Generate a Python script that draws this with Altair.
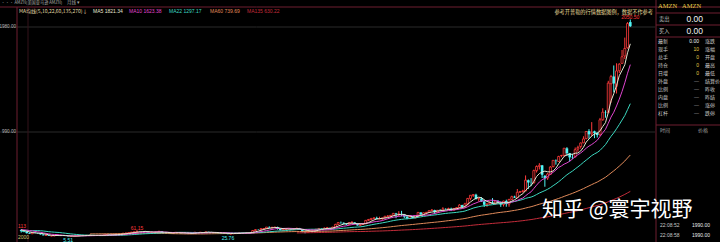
import altair as alt
import pandas as pd

# ---------------- data ----------------
# month-end closes before the visible range (Jun 1997 .. Dec 1999), used only for the moving averages
pre_closes = [1.84, 2.60, 2.50, 4.41, 4.29, 4.70, 5.01,
              4.91, 5.58, 6.90, 7.73, 6.60, 8.33, 9.80, 7.95, 13.10, 12.00, 17.94, 26.75,
              58.47, 64.06, 85.81, 87.00, 60.69, 62.56, 57.22, 54.09, 81.38, 70.62, 85.06, 76.13]

# monthly (open, high, low, close)
ohlc_2000 = [(81.5, 91.5, 58.5, 64.56), (63.0, 85.0, 61.5, 68.88), (69.0, 75.3, 60.5, 67.00), (66.0, 74.5, 41.3, 55.19),
             (55.0, 62.8, 44.5, 48.31), (48.5, 56.8, 32.6, 36.31), (36.5, 42.9, 29.5, 30.13), (30.5, 43.9, 29.5, 41.50),
             (41.3, 44.5, 35.5, 38.44), (38.5, 40.2, 29.5, 36.63), (36.5, 39.6, 22.8, 24.69), (24.0, 26.6, 14.9, 15.56)]
ohlc_2001 = [(15.5, 22.9, 13.9, 17.31), (17.0, 18.1, 9.9, 10.19), (10.0, 12.4, 8.1, 10.23), (10.1, 17.9, 8.4, 15.78),
             (15.8, 18.0, 13.2, 16.69), (16.7, 17.3, 11.5, 14.15), (14.1, 15.9, 10.6, 12.49), (12.5, 12.6, 8.7, 8.94),
             (9.0, 9.4, 5.51, 5.97), (6.0, 7.6, 5.7, 6.98), (7.0, 10.8, 6.8, 8.20), (8.3, 11.1, 8.1, 10.82)]
ohlc_2002 = [(10.9, 14.8, 9.9, 14.19), (14.1, 15.1, 12.5, 14.10), (14.1, 16.8, 13.5, 14.30), (14.3, 16.8, 13.9, 16.69),
             (16.7, 19.9, 16.3, 18.23), (18.2, 19.4, 14.9, 16.25), (16.3, 16.4, 12.3, 14.45), (14.5, 15.8, 13.2, 14.94),
             (14.9, 17.8, 14.3, 15.93), (15.9, 20.0, 15.1, 19.36), (19.4, 25.0, 18.9, 23.35), (23.4, 24.0, 18.5, 18.89)]
ohlc_2003 = [(18.9, 23.4, 18.8, 21.85), (21.9, 23.5, 20.9, 22.01), (22.0, 27.0, 21.5, 26.03), (26.0, 29.8, 25.6, 28.69),
             (28.7, 37.6, 28.5, 35.89), (35.9, 39.3, 35.0, 36.32), (36.3, 42.2, 35.4, 41.64), (41.6, 47.0, 41.2, 46.32),
             (46.3, 50.5, 44.5, 48.43), (48.4, 61.15, 47.9, 54.43), (54.4, 57.2, 51.3, 53.97), (54.0, 55.0, 51.0, 52.62)]
ohlc_2004 = [(52.6, 58.0, 48.6, 50.40), (50.4, 51.9, 41.4, 43.01), (43.0, 45.8, 39.2, 43.28), (43.3, 48.0, 42.0, 43.60),
             (43.6, 50.0, 42.0, 48.50), (48.5, 54.9, 47.3, 54.40), (54.4, 54.5, 37.8, 38.92), (38.9, 39.6, 36.0, 38.14),
             (38.1, 42.0, 37.7, 40.86), (40.9, 42.0, 33.0, 34.13), (34.1, 40.9, 33.7, 39.68), (39.7, 45.0, 39.5, 44.29)]
ohlc_2005 = [(44.3, 45.0, 40.0, 43.22), (43.2, 44.6, 34.6, 35.18), (35.2, 36.8, 33.2, 34.27), (34.3, 35.0, 30.6, 32.36),
             (32.4, 36.9, 31.9, 35.51), (35.5, 37.0, 32.5, 33.09), (33.1, 45.8, 32.9, 44.99), (45.0, 46.6, 41.6, 42.70),
             (42.7, 46.3, 41.2, 45.30), (45.3, 45.5, 38.9, 39.86), (39.9, 49.5, 39.2, 48.46), (48.5, 50.0, 46.1, 47.15)]
ohlc_2006 = [(47.2, 48.6, 43.6, 44.82), (44.8, 46.1, 36.3, 37.44), (37.4, 38.6, 35.0, 36.53), (36.5, 36.9, 33.6, 35.21),
             (35.2, 36.3, 33.0, 34.61), (34.6, 39.2, 33.5, 38.68), (38.7, 38.9, 25.76, 26.89), (26.9, 31.5, 26.0, 30.83),
             (30.8, 33.0, 29.6, 32.12), (32.1, 38.3, 31.1, 38.09), (38.1, 42.0, 37.2, 40.34), (40.3, 41.4, 37.0, 39.46)]
ohlc_2007 = [(39.5, 40.8, 36.3, 37.67), (37.7, 42.0, 37.2, 39.14), (39.1, 40.4, 36.7, 39.79), (39.8, 63.8, 39.6, 61.33),
             (61.3, 74.7, 59.7, 69.14), (69.1, 74.7, 67.4, 68.41), (68.4, 84.5, 67.5, 78.54), (78.5, 80.4, 68.9, 79.91),
             (79.9, 94.5, 78.8, 93.15), (93.2, 101.1, 83.8, 89.15), (89.2, 96.8, 77.0, 90.56), (90.6, 96.3, 86.3, 92.64)]
ohlc_2008 = [(92.6, 97.4, 69.0, 77.70), (77.7, 80.5, 62.0, 64.47), (64.5, 75.3, 61.5, 71.30), (71.3, 83.0, 70.4, 78.63),
             (78.6, 84.9, 71.3, 81.62), (81.6, 83.8, 72.1, 73.33), (73.3, 82.6, 68.1, 76.34), (76.3, 88.8, 75.4, 80.81),
             (80.8, 85.6, 70.6, 72.76), (72.8, 74.0, 43.1, 57.24), (57.2, 61.4, 34.7, 42.70), (42.7, 56.3, 42.2, 51.28)]
ohlc_2009 = [(51.3, 60.0, 47.6, 58.82), (58.8, 66.9, 58.0, 64.79), (64.8, 74.9, 61.0, 73.44), (73.4, 84.0, 72.5, 80.52),
             (80.5, 81.6, 75.0, 77.99), (78.0, 89.7, 77.0, 83.66), (83.7, 95.1, 80.4, 85.76), (85.8, 86.9, 80.3, 81.19),
             (81.2, 96.5, 78.5, 93.36), (93.4, 124.4, 88.4, 118.81), (118.8, 138.2, 115.6, 135.91), (135.9, 145.9, 124.5, 134.52)]
ohlc_2010 = [(134.5, 136.6, 119.4, 125.41), (125.4, 128.0, 111.2, 118.40), (118.4, 136.1, 117.8, 135.77), (135.8, 151.1, 128.5, 137.10),
             (137.1, 139.0, 119.3, 125.46), (125.5, 130.2, 107.3, 109.26), (109.3, 123.0, 105.8, 117.89), (117.9, 128.6, 113.8, 124.83),
             (124.8, 160.4, 123.0, 157.06), (157.1, 170.2, 150.0, 165.23), (165.2, 177.2, 156.0, 175.40), (175.4, 185.0, 170.1, 180.00)]
ohlc_2011 = [(180.0, 191.6, 166.9, 169.64), (169.6, 191.4, 169.5, 173.29), (173.3, 181.6, 160.6, 180.13), (180.1, 197.8, 175.1, 195.81),
             (195.8, 206.4, 190.9, 196.69), (196.7, 206.4, 181.6, 204.49), (204.5, 227.2, 201.0, 222.52), (222.5, 227.5, 177.4, 215.23),
             (215.2, 244.0, 195.1, 216.23), (216.2, 246.7, 195.6, 213.51), (213.5, 217.5, 177.5, 192.29), (192.3, 197.0, 166.9, 173.10)]
ohlc_2012 = [(173.1, 196.0, 172.0, 194.44), (194.4, 195.0, 175.9, 179.69), (179.7, 204.8, 177.7, 202.51), (202.5, 232.4, 185.0, 231.90),
             (231.9, 232.4, 206.8, 212.91), (212.9, 229.5, 208.0, 228.35), (228.4, 233.9, 211.3, 233.30), (233.3, 250.1, 230.5, 248.27),
             (248.3, 264.1, 244.6, 254.32), (254.3, 257.3, 215.5, 232.89), (232.9, 254.7, 226.5, 252.05), (252.1, 262.7, 243.7, 250.87)]
ohlc_2013 = [(250.9, 281.0, 250.0, 265.50), (265.5, 269.9, 256.4, 264.27), (264.3, 276.6, 255.5, 266.49), (266.5, 276.4, 244.6, 253.81),
             (253.8, 272.4, 253.2, 269.20), (269.2, 282.5, 260.4, 277.69), (277.7, 309.4, 277.2, 301.22), (301.2, 304.0, 279.4, 280.98),
             (281.0, 322.4, 280.0, 312.64), (312.6, 368.4, 297.5, 363.57), (363.6, 394.2, 346.5, 393.62), (393.6, 405.6, 378.3, 398.79)]
ohlc_2014 = [(398.8, 408.1, 352.7, 358.69), (358.7, 366.7, 336.6, 362.10), (362.1, 376.6, 331.1, 336.37), (336.4, 348.0, 284.0, 304.13),
             (304.1, 315.2, 284.4, 312.55), (312.6, 336.4, 302.2, 324.78), (324.8, 366.7, 312.5, 312.99), (313.0, 342.4, 304.6, 339.04),
             (339.0, 348.5, 319.8, 322.44), (322.4, 335.0, 284.0, 305.46), (305.5, 341.7, 287.1, 338.64), (338.6, 352.0, 285.3, 310.35)]
ohlc_2015 = [(310.4, 359.5, 285.3, 354.53), (354.5, 389.4, 350.0, 380.16), (380.2, 389.4, 368.3, 372.10), (372.1, 452.7, 367.6, 421.78),
             (421.8, 433.4, 415.3, 429.23), (429.2, 445.2, 419.0, 434.09), (434.1, 580.6, 433.3, 536.15), (536.2, 542.1, 452.4, 512.89),
             (512.9, 555.2, 479.6, 511.89), (511.9, 635.2, 502.8, 625.90), (625.9, 675.0, 608.0, 664.80), (664.8, 696.4, 637.0, 675.89)]
ohlc_2016 = [(675.9, 679.0, 556.0, 587.00), (578.2, 581.8, 474.0, 552.52), (556.3, 603.2, 538.6, 593.64), (590.5, 669.3, 585.3, 659.59),
             (663.9, 724.2, 656.0, 722.79), (720.0, 731.5, 682.1, 715.62), (712.0, 766.0, 708.0, 758.81), (767.0, 774.5, 752.0, 769.16),
             (769.3, 838.5, 757.9, 837.31), (836.0, 847.2, 764.0, 789.82), (790.3, 791.4, 710.1, 750.57), (752.4, 785.0, 735.0, 749.87)]
ohlc_2017 = [(757.9, 843.8, 747.7, 823.48), (829.2, 860.9, 803.0, 845.04), (853.1, 890.4, 833.3, 886.54), (888.0, 949.6, 884.5, 924.99),
             (927.8, 999.8, 920.8, 994.62), (998.6, 1017.0, 927.0, 968.00), (972.8, 1083.3, 951.0, 987.78), (996.1, 1002.6, 931.8, 980.60),
             (984.2, 985.2, 937.9, 961.35), (964.6, 1122.8, 951.5, 1105.28), (1105.4, 1213.4, 1096.1, 1176.75), (1172.1, 1194.8, 1124.7, 1169.47)]
ohlc_2018 = [(1172.0, 1472.6, 1170.5, 1450.89), (1445.0, 1528.7, 1265.9, 1512.45), (1513.6, 1617.5, 1365.2, 1447.34),
             (1421.4, 1638.1, 1352.9, 1566.13), (1568.0, 1638.4, 1546.0, 1629.62), (1637.0, 1763.1, 1635.1, 1699.80),
             (1707.0, 1880.1, 1678.1, 1777.44), (1784.0, 2025.6, 1776.0, 2012.71), (2026.5, 2050.5, 1981.0, 1987.15)]

ma_periods = [5, 10, 22, 60, 135]
ma_names = ["MA5", "MA10", "MA22", "MA60", "MA135"]
ma_values_text = ["1821.34", "1623.38", "1297.17", "739.69", "630.22"]

# extreme-price annotations: month index (Dec 1999 = 0) and price
ext_text = ["5.51", "61.15", "25.76", "2050.50"]
ext_idx = [21, 46, 79, 225]
ext_price = [5.51, 61.15, 25.76, 2050.5]
ext_kind = ["low", "high", "low", "high"]

grid_values = [990, 1980]

# quote panel
quote_left = ["最新", "现手", "总手", "持仓", "日增", "外盘", "比例", "内盘", "比例", "杠杆"]
quote_vals = ["0.00", "10", "0", "0", "0", "—", "—", "—", "—", "—"]
quote_right = ["涨跌", "涨幅", "开盘", "最高", "最低", "结算价", "昨收", "昨结", "涨停", "跌停"]
ticks_time = ["22:08:52", "22:08:58"]
ticks_price = ["1990.00", "1990.00"]

# ---------------- build tables ----------------
years = [ohlc_2000, ohlc_2001, ohlc_2002, ohlc_2003, ohlc_2004, ohlc_2005, ohlc_2006, ohlc_2007, ohlc_2008,
         ohlc_2009, ohlc_2010, ohlc_2011, ohlc_2012, ohlc_2013, ohlc_2014, ohlc_2015, ohlc_2016, ohlc_2017, ohlc_2018]
rows = [r for y in years for r in y]
cdf = pd.DataFrame(rows, columns=["open", "high", "low", "close"])
cdf["idx"] = range(1, len(cdf) + 1)
cdf["dir"] = ["up" if c >= o else "down" for o, c in zip(cdf["open"], cdf["close"])]

all_close = pd.Series(pre_closes + list(cdf["close"]))
all_idx = list(range(-len(pre_closes) + 1, len(cdf) + 1))
ma_frames = {}
for n, name in zip(ma_periods, ma_names):
    m = pd.DataFrame({"idx": all_idx, "val": all_close.rolling(n).mean()})
    m = m[(m["idx"] >= 4) & m["val"].notna()]
    ma_frames[name] = m

cdf = cdf[cdf["idx"] >= 4]
up = cdf[cdf["dir"] == "up"]
dn = cdf[cdf["dir"] == "down"]

edf = pd.DataFrame({"t": ext_text, "idx": ext_idx, "p": ext_price, "k": ext_kind})
gdf = pd.DataFrame({"v": grid_values, "lab": [f"{v:.2f}" for v in grid_values]})

# ---------------- styling ----------------
X0 = 17          # left edge of plot view (page px)
W = 638          # plot view width
H = 242
RED = "#ff3b3b"
CYAN = "#4ff5f5"
BORDER = "#6e1f30"
GRID = "#2a2a2a"
MA_COLORS = ["#e6e6d2", "#e045d0", "#3cd8c0", "#e08a5a", "#c42c3a"]
CJK = "Noto Sans CJK SC"
SANS = "Liberation Sans"

xscale = alt.Scale(domain=[4.2857, 232.143], nice=False, zero=False)
yscale = alt.Scale(domain=[-47.1, 2234.6], nice=False, zero=False)
X = alt.X("idx:Q", scale=xscale, axis=None)

one = pd.DataFrame({"k": [0]})


def txt(s, x, y, color, size, align="left", font=CJK, baseline="middle"):
    return alt.Chart(one).mark_text(text=s, align=align, baseline=baseline, color=color,
                                    fontSize=size, font=font).encode(x=alt.value(x - X0), y=alt.value(y))


def hline(x1, x2, y, color, w=1.0):
    return alt.Chart(one).mark_rule(color=color, strokeWidth=w).encode(
        x=alt.value(x1 - X0), x2=alt.value(x2 - X0), y=alt.value(y))


def vline(x, y1, y2, color, w=1.0):
    return alt.Chart(one).mark_rule(color=color, strokeWidth=w).encode(
        x=alt.value(x - X0), y=alt.value(y1), y2=alt.value(y2))


layers = []

# grid + price labels
layers.append(alt.Chart(gdf).mark_rule(color=GRID, strokeWidth=1).encode(
    y=alt.Y("v:Q", scale=yscale, axis=None), x=alt.value(-X0), x2=alt.value(W)))
layers.append(alt.Chart(gdf).mark_text(align="right", baseline="middle", color="#b4b4b4", fontSize=4.6,
                                       font=SANS, dx=-1, dy=0).encode(
    y=alt.Y("v:Q", scale=yscale, axis=None), x=alt.value(0), text="lab:N"))

# frame lines
layers.append(hline(0, 720, 7, BORDER))
layers.append(vline(17, 7, 242, BORDER))
layers.append(vline(28, 7, 242, "#35121a"))
layers.append(vline(656, 0, 242, BORDER))

# candles
for d, col in [(up, RED), (dn, CYAN)]:
    layers.append(alt.Chart(d).mark_rule(color=col, strokeWidth=1, clip=True).encode(
        x=X, y=alt.Y("low:Q", scale=yscale, axis=None), y2="high:Q"))
layers.append(alt.Chart(up).mark_bar(size=2, fill="black", stroke=RED, strokeWidth=0.8, clip=True).encode(
    x=X, y=alt.Y("open:Q", scale=yscale, axis=None), y2="close:Q"))
layers.append(alt.Chart(dn).mark_bar(size=2.6, color=CYAN, clip=True).encode(
    x=X, y=alt.Y("open:Q", scale=yscale, axis=None), y2="close:Q"))

# moving averages
for name, col in zip(ma_names[::-1], MA_COLORS[::-1]):
    layers.append(alt.Chart(ma_frames[name]).mark_line(color=col, strokeWidth=1, clip=True).encode(
        x=X, y=alt.Y("val:Q", scale=yscale, axis=None)))

# extreme labels
layers.append(alt.Chart(edf[edf["k"] == "low"]).mark_text(align="center", baseline="middle", color=CYAN,
                                                        fontSize=5, font=SANS, dy=4).encode(
    x=X, y=alt.Y("p:Q", scale=yscale, axis=None), text="t:N"))
layers.append(alt.Chart(edf[edf["k"] == "high"]).mark_text(align="center", baseline="middle", color=RED,
                                                         fontSize=5, font=SANS, dy=-3).encode(
    x=X, y=alt.Y("p:Q", scale=yscale, axis=None), text="t:N"))
layers.append(txt("113", 18, 226, RED, 5, font=SANS))
layers.append(txt("2000", 18, 237, "#d8c870", 5, font=SANS))

# header / legend texts
layers.append(txt("··· AMZN(美国亚马逊 AMZN)", 1, 3, "#a8a8a8", 4.2))
layers.append(txt("月线 ▾", 67, 3, "#a8a8a8", 4.5))
layers.append(txt("MA均线(5,10,22,60,135,270)↓", 19, 11, "#e0dca8", 5))
leg_x = [93, 129, 169, 210, 247]
for lx, name, val, col in zip(leg_x, ma_names, ma_values_text, MA_COLORS):
    layers.append(txt(f"{name} {val}", lx, 11, col, 5, font=SANS))
layers.append(txt("参考开普勒的行情数据图例，数据不作参考", 653, 12, "#e8dc9a", 5.2, align="right"))

# quote panel
layers.append(txt("AMZN", 658, 6, "#e6cf48", 6.5, font="Liberation Serif"))
layers.append(txt("AMZN", 682, 6, "#e6cf48", 6.5, font="Liberation Serif"))
for yy in [13, 25, 37, 125]:
    layers.append(hline(656, 720, yy, BORDER))
layers.append(txt("卖出", 659, 19, "#c8c8c8", 5.2))
layers.append(txt("0.00", 703, 19, "#f0f0f0", 8.5, align="right", font=SANS))
layers.append(txt("买入", 659, 31, "#c8c8c8", 5.2))
layers.append(txt("0.00", 703, 31, "#f0f0f0", 8.5, align="right", font=SANS))
for i, (a, v, b) in enumerate(zip(quote_left, quote_vals, quote_right)):
    yy = 41 + 8 * i
    vcol = "#f0f0f0" if i == 0 else ("#e6cf48" if v != "—" else "#9a9a9a")
    layers.append(txt(a, 658, yy, "#c8c8c8", 5))
    layers.append(txt(v, 699, yy, vcol, 5, align="right", font=SANS))
    layers.append(txt(b, 705, yy, "#c8c8c8", 5))
layers.append(txt("时间", 660, 130, "#a0a0a0", 5))
layers.append(txt("价格", 698, 130, "#a0a0a0", 5))
for i, (t, p) in enumerate(zip(ticks_time, ticks_price)):
    yy = 225 + 10 * i
    layers.append(txt(t, 660, yy, "#c8c8c8", 5, font=SANS))
    layers.append(txt(p, 710, yy, "#e8e8e8", 5, align="right", font=SANS))

# watermark
layers.append(txt("知乎 @寰宇视野", 542, 210, "#ffffff", 21))

chart = alt.layer(*layers).properties(
    width=W, height=H,
    autosize=alt.AutoSizeParams(type="none"),
    padding={"left": X0, "right": 720 - X0 - W, "top": 0, "bottom": 0},
    background="#000000",
).configure_view(strokeWidth=0)

chart.save("out.html", embed_options={"renderer": "svg", "actions": False})
